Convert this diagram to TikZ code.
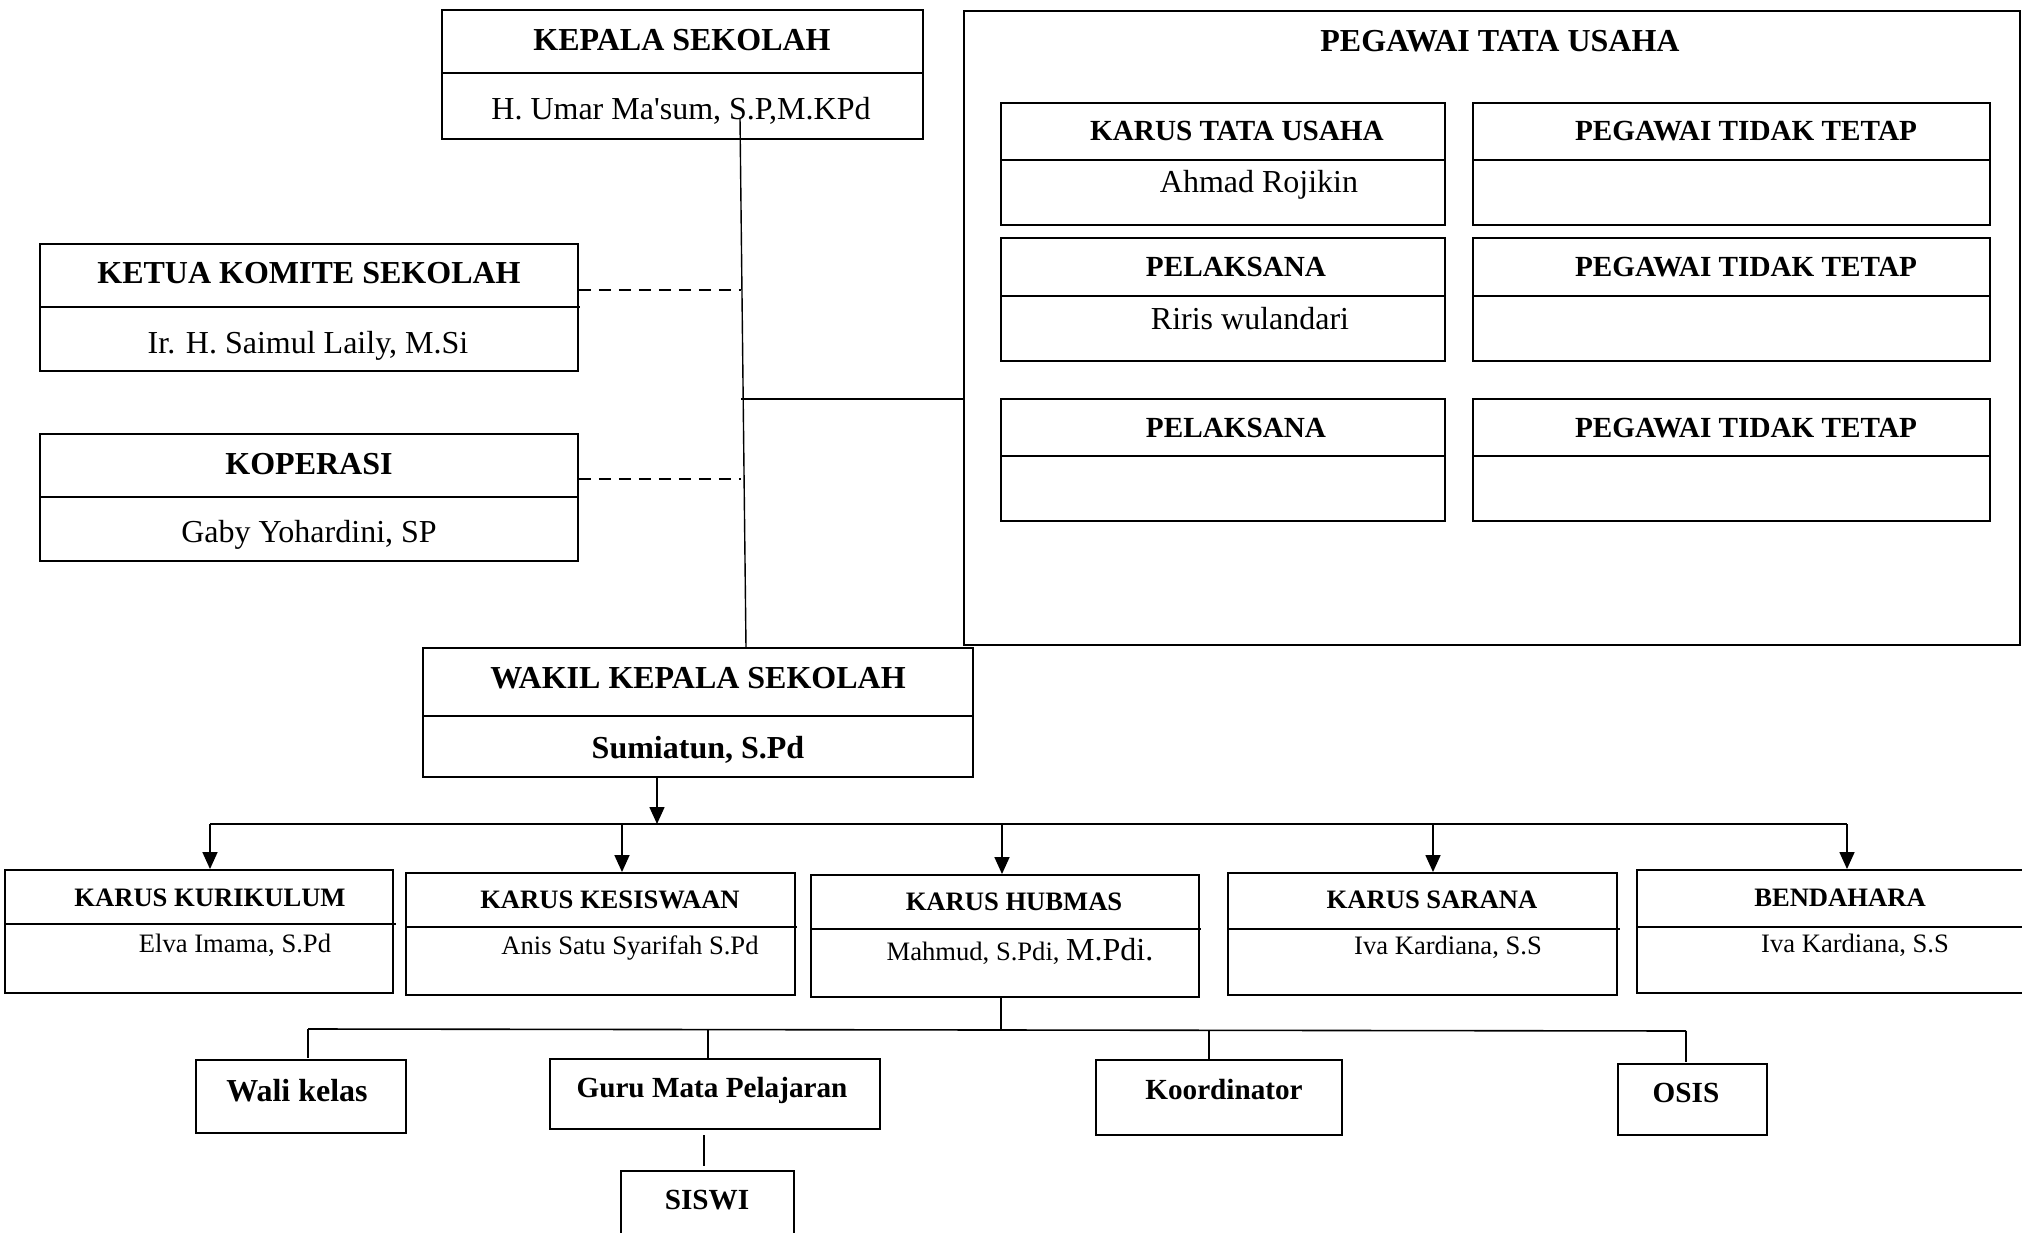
\documentclass[tikz,border=0pt]{standalone}
\usepackage{fontspec}
\setmainfont{Liberation Serif}
\newfontfamily\nomapfont{Liberation Serif}[Ligatures=TeXOff]
\usetikzlibrary{fit,arrows.meta,calc}
\tikzset{
  box/.style={draw, line width=1.9pt, inner sep=0pt},
  divline/.style={line width=1.9pt},
  conn/.style={line width=1.6pt},
  arr/.style={line width=1.6pt, -{Triangle[length=17pt,width=15pt]}},
  dashline/.style={line width=1.8pt, dash pattern=on 12pt off 8pt},
  hA/.style={anchor=base, inner sep=0pt, font=\fontsize{32}{38}\selectfont\bfseries},
  hB/.style={anchor=base, inner sep=0pt, font=\fontsize{29.2}{35}\selectfont\bfseries},
  hC/.style={anchor=base, inner sep=0pt, font=\fontsize{26.6}{32}\selectfont\bfseries},
  nA/.style={anchor=base, inner sep=0pt, font=\fontsize{32}{38}\selectfont},
  nC/.style={anchor=base, inner sep=0pt, font=\fontsize{26.6}{32}\selectfont},
}
\begin{document}
\begin{tikzpicture}[x=1pt,y=-1pt]
\useasboundingbox[fill=white] (0,0) rectangle (2022,1233);

% ---------- top part ----------
\node[box, fit={(442,10) (923,139)}] (kepala) {};
\draw[divline] (442,73) -- (923,73);
\node[hA] (kepalaT) at (682,51) {KEPALA SEKOLAH};
\node[nA] (kepalaN) at (681,120) {H. Umar Ma{\nomapfont '}sum, S.P,M.KPd};

\node[box, fit={(964,11) (2020,645)}] (tu) {};
\node[hA] (tuT) at (1500,52) {PEGAWAI TATA USAHA};

\node[box, fit={(1001,103) (1445,225)}] (karustu) {};
\draw[divline] (1001,160) -- (1445,160);
\node[hB] (karustuT) at (1237,141) {KARUS TATA USAHA};
\node[nA] (karustuN) at (1259,193) {Ahmad Rojikin};

\node[box, fit={(1473,103) (1990,225)}] (ptta) {};
\draw[divline] (1473,160) -- (1990,160);
\node[hB] (pttaT) at (1746,141) {PEGAWAI TIDAK TETAP};

\node[box, fit={(1001,238) (1445,361)}] (pela) {};
\draw[divline] (1001,296) -- (1445,296);
\node[hB] (pelaT) at (1236,277) {PELAKSANA};
\node[nA] (pelaN) at (1250,330) {Riris wulandari};

\node[box, fit={(1473,238) (1990,361)}] (pttb) {};
\draw[divline] (1473,296) -- (1990,296);
\node[hB] (pttbT) at (1746,277) {PEGAWAI TIDAK TETAP};

\node[box, fit={(1001,399) (1445,521)}] (pelb) {};
\draw[divline] (1001,456) -- (1445,456);
\node[hB] (pelbT) at (1236,437) {PELAKSANA};

\node[box, fit={(1473,399) (1990,521)}] (pttc) {};
\draw[divline] (1473,456) -- (1990,456);
\node[hB] (pttcT) at (1746,437) {PEGAWAI TIDAK TETAP};

\node[box, fit={(40,244) (578,371)}] (ketua) {};
\draw[divline] (40,307) -- (580,307);
\node[hA] (ketuaT) at (309,284) {KETUA KOMITE SEKOLAH};
\node[nA] (ketuaN) at (308,353) {Ir. H. Saimul Laily, M.Si};

\node[box, fit={(40,434) (578,561)}] (kop) {};
\draw[divline] (40,497) -- (578,497);
\node[hA] (kopT) at (309,474) {KOPERASI};
\node[nA] (kopN) at (309,542) {Gaby Yohardini, SP};

\node[box, fit={(423,648) (973,777)}] (wakil) {};
\draw[divline] (423,716) -- (973,716);
\node[hA] (wakilT) at (698,688) {WAKIL KEPALA SEKOLAH};
\node[hA] (wakilN) at (698,758) {Sumiatun, S.Pd};

% connectors top
\coordinate (ktop) at (740,118);
\coordinate (wtop) at (746,648);
\draw[line width=1.4pt] (ktop) -- (wtop);
\coordinate (j1) at (741,399);
\draw[line width=1.5pt] (j1) -- (j1 -| tu.west);
\coordinate (d1) at (741,290);
\coordinate (d2) at (741,479);
\draw[dashline] (d1 -| ketua.east) -- (d1);
\draw[dashline] (d2 -| kop.east) -- (d2);

% ---------- second row ----------
\node[box, fit={(5,870) (393,993)}] (kur) {};
\draw[divline] (5,924) -- (396,924);
\node[hC] (kurT) at (210,906) {KARUS KURIKULUM};
\node[nC] (kurN) at (235,952) {Elva Imama, S.Pd};

\node[box, fit={(406,873) (795,995)}] (kes) {};
\draw[divline] (406,927) -- (797,927);
\node[hC] (kesT) at (610,908) {KARUS KESISWAAN};
\node[nC] (kesN) at (630,954) {Anis Satu Syarifah S.Pd};

\node[box, fit={(811,875) (1199,997)}] (hub) {};
\draw[divline] (811,929) -- (1201,929);
\node[hC] (hubT) at (1014,910) {KARUS HUBMAS};
\node[nC] (hubN) at (1020,960) {Mahmud, S.Pdi, {\fontsize{32}{38}\selectfont M.Pdi.}};

\node[box, fit={(1228,873) (1617,995)}] (sar) {};
\draw[divline] (1228,929) -- (1620,929);
\node[hC] (sarT) at (1432,908) {KARUS SARANA};
\node[nC] (sarN) at (1448,954) {Iva Kardiana, S.S};

\node[box, fit={(1637,870) (2032,993)}] (ben) {};
\draw[divline] (1637,927) -- (2032,927);
\node[hC] (benT) at (1840,906) {BENDAHARA};
\node[nC] (benN) at (1855,952) {Iva Kardiana, S.S};

% arrows from wakil
\coordinate (b0) at (657,824);
\draw[arr] (b0 |- wakil.south) -- (b0);
\coordinate (bl) at (210,824);
\coordinate (br) at (1847,824);
\draw[conn] (bl) -- (br);
\coordinate (a1) at (210,824);
\coordinate (a2) at (622,824);
\coordinate (a3) at (1002,824);
\coordinate (a4) at (1433,824);
\coordinate (a5) at (1847,824);
\draw[arr] (a1) -- (a1 |- kur.north);
\draw[arr] (a2) -- (a2 |- kes.north);
\draw[arr] (a3) -- (a3 |- hub.north);
\draw[arr] (a4) -- (a4 |- sar.north);
\draw[arr] (a5) -- (a5 |- ben.north);

% ---------- bottom row ----------
\node[box, fit={(196,1060) (406,1133)}] (wali) {};
\node[hA] (waliT) at (297,1101) {Wali kelas};

\node[box, fit={(550,1059) (880,1129)}] (guru) {};
\node[hB] (guruT) at (712,1097) {Guru Mata Pelajaran};

\node[box, fit={(621,1171) (794,1250)}] (siswi) {};
\node[hB] (siswiT) at (707,1209) {SISWI};

\node[box, fit={(1096,1060) (1342,1135)}] (koor) {};
\node[hB] (koorT) at (1224,1099) {Koordinator};

\node[box, fit={(1618,1064) (1767,1135)}] (osis) {};
\node[hB] (osisT) at (1686,1102) {OSIS};

\coordinate (h0) at (1001,1030);
\draw[conn] (h0 |- hub.south) -- (h0);
\coordinate (c1) at (308,1029);
\coordinate (c2) at (708,1029);
\coordinate (c3) at (1209,1030);
\coordinate (c4) at (1686,1031);
\draw[conn] (c1) -- (c4);
\coordinate (e1) at (308,1058);
\coordinate (e2) at (708,1058);
\coordinate (e3) at (1209,1060);
\coordinate (e4) at (1686,1062);
\draw[conn] (c1) -- (e1);
\draw[conn] (c2) -- (e2);
\draw[conn] (c3) -- (e3);
\draw[conn] (c4) -- (e4);
\coordinate (g1) at (704,1135);
\coordinate (g2) at (704,1166);
\draw[line width=1.3pt] (g1) -- (g2);
\end{tikzpicture}
\end{document}
